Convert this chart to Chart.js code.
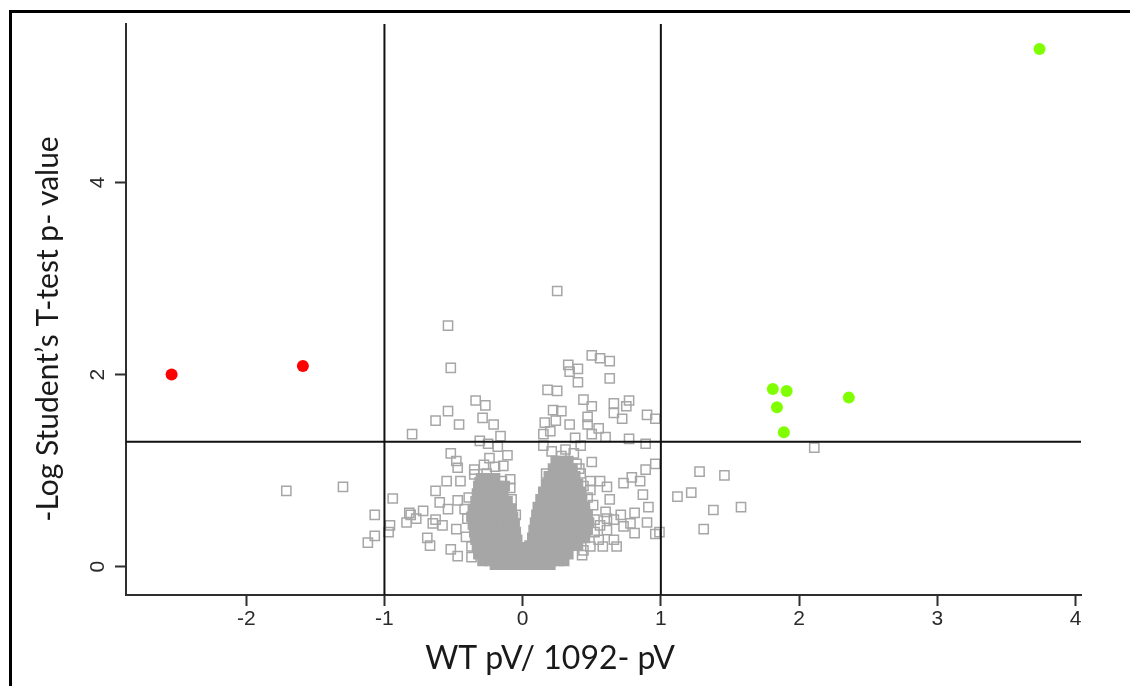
<!DOCTYPE html>
<html>
<head>
<meta charset="utf-8">
<script src="https://cdn.jsdelivr.net/npm/chart.js@4.4.1/dist/chart.umd.min.js"></script>
<style>
  html, body { margin: 0; padding: 0; background: #fff; overflow: hidden; }
  #frame { position: absolute; left: 9px; top: 10px; width: 1121px; height: 676px; box-sizing: border-box;
           border-top: 3px solid #000; border-left: 3px solid #000; }
  #wrap { position: absolute; left: 0; top: 0; width: 1130px; height: 686px; }
</style>
</head>
<body>
<div id="frame"></div>
<div id="wrap"><canvas id="chart" width="1130" height="686"></canvas></div>
<script>
const xTitle = 'WT pV/ 1092- pV';
const yTitle = '-Log Student\u2019s T-test p- value';

const xTicks = [-2, -1, 0, 1, 2, 3, 4];
const yTicks = [0, 2, 4];
const xMin = -2.87, xMax = 4.04;
const yMin = -0.295, yMax = 5.65;

// cut-offs: fold change and -log10(0.05)
const foldCut = [-1, 1];
const pCut = 1.3;

// significant, down
const redPoints = [[-2.54, 2.00], [-1.59, 2.09]];
// significant, up
const greenPoints = [[3.74, 5.39], [1.81, 1.85], [1.91, 1.83], [1.84, 1.66], [1.89, 1.40], [2.36, 1.76]];

// scattered proteins, open squares
const grayOpen = [
  [-0.54, 2.51], [-0.52, 2.07], [0.25, 2.87],
  [-0.34, 1.73], [-0.27, 1.68], [-0.54, 1.62], [-0.63, 1.52], [-0.46, 1.48], [-0.29, 1.55], [-0.21, 1.48], [-0.16, 1.36], [-0.80, 1.38],
  [-0.31, 1.31], [-0.25, 1.28], [-0.18, 1.25], [-0.52, 1.18], [-0.11, 1.16], [-0.24, 1.13], [-0.48, 1.10], [-0.47, 1.03], [-0.20, 1.04], [-0.14, 1.05],
  [-0.35, 1.01], [-0.26, 0.97], [-0.35, 0.96], [-0.31, 0.88], [-0.15, 0.89], [-0.09, 0.91], [-0.55, 0.89], [-0.45, 0.89], [-0.63, 0.79], [-0.09, 0.82],
  [-0.94, 0.71], [-0.47, 0.69], [-0.60, 0.67], [-0.08, 0.70], [-0.54, 0.60], [-0.42, 0.60], [-0.72, 0.58], [-0.82, 0.56], [-0.81, 0.54], [-0.05, 0.54],
  [-0.77, 0.50], [-0.63, 0.49], [-0.84, 0.46], [-0.65, 0.45], [-0.06, 0.45], [-0.58, 0.43], [-0.96, 0.43], [-0.48, 0.39],
  [-0.97, 0.36], [-0.69, 0.30], [-0.67, 0.22], [-0.37, 0.21], [-0.52, 0.18], [-0.47, 0.11],
  [-0.40, 0.50], [-0.41, 0.31], [-0.39, 0.72], [-0.37, 0.10], [-0.28, 1.06],
  [-1.07, 0.54], [-1.07, 0.32], [-1.12, 0.25], [-1.71, 0.79], [-1.30, 0.83],
  [0.33, 2.10], [0.40, 2.06], [0.50, 2.20], [0.56, 2.17], [0.63, 2.14], [0.34, 2.03], [0.40, 1.92], [0.63, 1.96],
  [0.18, 1.84], [0.25, 1.83], [0.44, 1.74], [0.50, 1.67], [0.22, 1.63], [0.28, 1.62], [0.66, 1.70], [0.77, 1.73], [0.75, 1.67], [0.66, 1.60],
  [0.72, 1.54], [0.47, 1.56], [0.90, 1.58], [0.96, 1.54], [0.16, 1.50], [0.24, 1.52], [0.34, 1.48], [0.47, 1.48], [0.55, 1.44], [0.50, 1.38],
  [0.60, 1.35], [0.20, 1.41], [0.15, 1.38], [0.38, 1.34], [0.77, 1.33], [0.89, 1.28], [0.15, 1.26], [0.42, 1.26], [0.37, 1.18], [0.28, 1.15],
  [0.39, 1.07], [0.50, 1.09], [0.42, 0.97], [0.17, 0.97], [0.49, 0.89], [0.56, 0.89], [0.61, 0.83], [0.89, 1.01], [0.96, 1.07], [0.73, 0.87],
  [0.79, 0.93], [0.85, 0.89], [0.87, 0.75], [0.49, 0.80], [0.63, 0.70], [0.91, 0.62], [0.81, 0.56],
  [0.71, 0.54], [0.45, 0.57], [0.60, 0.57], [0.52, 0.49], [0.66, 0.49], [0.61, 0.50], [0.90, 0.46],
  [0.78, 0.45], [0.56, 0.43], [0.73, 0.42], [0.61, 0.38], [0.81, 0.35], [0.96, 0.34], [0.99, 0.36], [0.55, 0.28],
  [0.66, 0.28], [0.68, 0.21], [0.58, 0.21], [0.49, 0.21], [0.44, 0.17],
  [0.51, 0.64], [0.52, 0.36], [0.47, 0.72], [0.44, 0.84], [0.41, 1.02], [0.43, 0.12], [0.21, 1.20], [0.31, 1.22],
  [1.12, 0.73], [1.22, 0.77], [1.28, 0.99], [1.46, 0.95], [1.38, 0.59], [1.58, 0.62], [1.31, 0.39], [2.11, 1.24]
];

// dense core of the volcano, left arm
const grayCoreLeft = [
  [-0.30, 0.92], [-0.25, 0.92], [-0.20, 0.92],
  [-0.32, 0.84], [-0.27, 0.84], [-0.22, 0.84], [-0.17, 0.84], [-0.13, 0.84],
  [-0.33, 0.76], [-0.28, 0.76], [-0.23, 0.76], [-0.18, 0.76], [-0.14, 0.76],
  [-0.34, 0.68], [-0.29, 0.68], [-0.24, 0.68], [-0.19, 0.68], [-0.14, 0.68], [-0.11, 0.68],
  [-0.36, 0.60], [-0.31, 0.60], [-0.26, 0.60], [-0.21, 0.60], [-0.16, 0.60], [-0.11, 0.60], [-0.08, 0.60],
  [-0.37, 0.52], [-0.32, 0.52], [-0.27, 0.52], [-0.22, 0.52], [-0.17, 0.52], [-0.12, 0.52], [-0.07, 0.52],
  [-0.36, 0.44], [-0.31, 0.44], [-0.26, 0.44], [-0.21, 0.44], [-0.16, 0.44], [-0.11, 0.44], [-0.06, 0.44],
  [-0.35, 0.36], [-0.30, 0.36], [-0.25, 0.36], [-0.20, 0.36], [-0.15, 0.36], [-0.10, 0.36], [-0.05, 0.36],
  [-0.34, 0.28], [-0.29, 0.28], [-0.24, 0.28], [-0.19, 0.28], [-0.14, 0.28], [-0.09, 0.28], [-0.04, 0.28],
  [-0.33, 0.20], [-0.28, 0.20], [-0.23, 0.20], [-0.18, 0.20], [-0.13, 0.20], [-0.08, 0.20], [-0.03, 0.20], [0.01, 0.20],
  [-0.32, 0.13], [-0.27, 0.13], [-0.22, 0.13], [-0.17, 0.13], [-0.12, 0.13], [-0.07, 0.13], [-0.02, 0.13],
  [-0.29, 0.06], [-0.24, 0.06], [-0.19, 0.06], [-0.14, 0.06], [-0.09, 0.06], [-0.04, 0.06],
  [-0.20, 0.02], [-0.13, 0.02], [-0.06, 0.02], [0.00, 0.02]
];

// dense core of the volcano, right arm
const grayCoreRight = [
  [0.24, 1.10], [0.29, 1.10], [0.33, 1.10],
  [0.22, 1.02], [0.27, 1.02], [0.32, 1.02], [0.36, 1.02],
  [0.19, 0.94], [0.24, 0.94], [0.29, 0.94], [0.34, 0.94], [0.38, 0.94],
  [0.17, 0.86], [0.22, 0.86], [0.27, 0.86], [0.32, 0.86], [0.37, 0.86], [0.40, 0.86],
  [0.15, 0.78], [0.20, 0.78], [0.25, 0.78], [0.30, 0.78], [0.35, 0.78], [0.40, 0.78], [0.42, 0.78],
  [0.13, 0.70], [0.18, 0.70], [0.23, 0.70], [0.28, 0.70], [0.33, 0.70], [0.38, 0.70], [0.43, 0.70],
  [0.11, 0.62], [0.16, 0.62], [0.21, 0.62], [0.26, 0.62], [0.31, 0.62], [0.36, 0.62], [0.41, 0.62], [0.45, 0.62],
  [0.10, 0.54], [0.15, 0.54], [0.20, 0.54], [0.25, 0.54], [0.30, 0.54], [0.35, 0.54], [0.40, 0.54], [0.45, 0.54], [0.47, 0.54],
  [0.09, 0.46], [0.14, 0.46], [0.19, 0.46], [0.24, 0.46], [0.29, 0.46], [0.34, 0.46], [0.39, 0.46], [0.44, 0.46], [0.48, 0.46],
  [0.08, 0.38], [0.13, 0.38], [0.18, 0.38], [0.23, 0.38], [0.28, 0.38], [0.33, 0.38], [0.38, 0.38], [0.43, 0.38], [0.47, 0.38],
  [0.07, 0.30], [0.12, 0.30], [0.17, 0.30], [0.22, 0.30], [0.27, 0.30], [0.32, 0.30], [0.37, 0.30], [0.42, 0.30], [0.45, 0.30],
  [0.05, 0.22], [0.10, 0.22], [0.15, 0.22], [0.20, 0.22], [0.25, 0.22], [0.30, 0.22], [0.35, 0.22], [0.40, 0.22],
  [0.03, 0.13], [0.08, 0.13], [0.13, 0.13], [0.18, 0.13], [0.23, 0.13], [0.28, 0.13], [0.33, 0.13],
  [0.01, 0.06], [0.06, 0.06], [0.11, 0.06], [0.16, 0.06], [0.21, 0.06], [0.26, 0.06], [0.30, 0.06],
  [0.06, 0.02], [0.13, 0.02], [0.20, 0.02]
];

const gray = '#a6a6a6';
const axisColor = '#2e2e2e';

function pts(list) {
  return list.map(p => ({ x: p[0], y: p[1] }));
}

function cutLine(data) {
  return {
    data,
    showLine: true,
    borderColor: '#111',
    borderWidth: 2,
    pointRadius: 0,
    pointHoverRadius: 0
  };
}

// axis titles sit off-centre in the original, so they are placed by hand
const axisTitles = {
  id: 'axisTitles',
  afterDraw(chart) {
    const { ctx, chartArea: a } = chart;
    ctx.save();
    ctx.fillStyle = '#1a1a1a';
    ctx.textAlign = 'center';
    ctx.textBaseline = 'middle';
    ctx.font = '32px Lato';
    ctx.fillText(xTitle, a.left + 424, a.bottom + 64);
    ctx.font = '30px Lato';
    ctx.translate(a.left - 78, a.top + 305);
    ctx.rotate(-Math.PI / 2);
    ctx.fillText(yTitle, 0, 0);
    ctx.restore();
  }
};

new Chart(document.getElementById('chart'), {
  type: 'scatter',
  data: {
    datasets: [
      cutLine([{ x: foldCut[0], y: yMin }, { x: foldCut[0], y: yMax }]),
      cutLine([{ x: foldCut[1], y: yMin }, { x: foldCut[1], y: yMax }]),
      cutLine([{ x: xMin, y: pCut }, { x: xMax, y: pCut }]),
      { data: pts(redPoints), pointStyle: 'circle', pointRadius: 6, backgroundColor: '#ff0000', borderWidth: 0 },
      { data: pts(greenPoints), pointStyle: 'circle', pointRadius: 6, backgroundColor: '#80ff00', borderWidth: 0 },
      { data: pts(grayOpen), pointStyle: 'rect', pointRadius: 6.5, backgroundColor: 'rgba(0,0,0,0)', borderColor: gray, borderWidth: 1.5 },
      { data: pts(grayCoreLeft.concat(grayCoreRight)), pointStyle: 'rect', pointRadius: 6.5, backgroundColor: gray, borderColor: gray, borderWidth: 1.5 }
    ]
  },
  options: {
    responsive: false,
    animation: false,
    devicePixelRatio: 1,
    layout: { padding: { top: 24, right: 49, left: 0, bottom: 0 } },
    plugins: { legend: { display: false }, tooltip: { enabled: false } },
    scales: {
      x: {
        type: 'linear',
        min: xMin,
        max: xMax,
        afterBuildTicks: s => { s.ticks = xTicks.map(v => ({ value: v })); },
        afterFit: s => { s.height = 91; },
        grid: { drawOnChartArea: false, drawTicks: true, tickLength: 11, tickWidth: 2, tickColor: axisColor },
        border: { display: true, color: axisColor, width: 2 },
        ticks: { color: '#2b2b2b', padding: 1, font: { family: 'Liberation Sans', size: 21 }, callback: v => String(v) }
      },
      y: {
        type: 'linear',
        min: yMin,
        max: yMax,
        afterBuildTicks: s => { s.ticks = yTicks.map(v => ({ value: v })); },
        afterFit: s => { s.width = 126; },
        grid: { drawOnChartArea: false, drawTicks: true, tickLength: 11, tickWidth: 2, tickColor: axisColor },
        border: { display: true, color: axisColor, width: 2 },
        ticks: { color: '#2b2b2b', padding: 11, minRotation: 90, maxRotation: 90, crossAlign: 'center',
                 font: { family: 'Liberation Sans', size: 21 }, callback: v => String(v) }
      }
    }
  },
  plugins: [axisTitles]
});
</script>
</body>
</html>
